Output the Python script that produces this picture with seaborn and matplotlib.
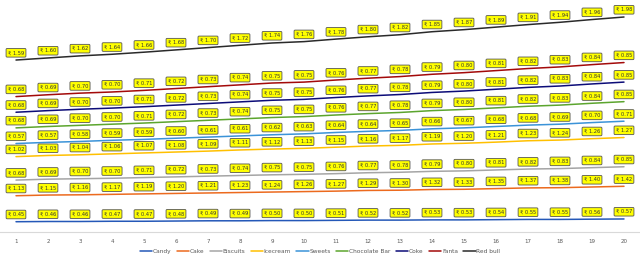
import pandas as pd
import numpy as np
import matplotlib
matplotlib.use('Agg')
import matplotlib.pyplot as plt
import seaborn as sns

# Data; series are stacked lines
days = list(range(1, 21))
candy = [0.45, 0.46, 0.46, 0.47, 0.47, 0.48, 0.49, 0.49, 0.50, 0.50,
         0.51, 0.52, 0.52, 0.53, 0.53, 0.54, 0.55, 0.55, 0.56, 0.57]
cake = [1.13, 1.15, 1.16, 1.17, 1.19, 1.20, 1.21, 1.23, 1.24, 1.26,
        1.27, 1.29, 1.30, 1.32, 1.33, 1.35, 1.37, 1.38, 1.40, 1.42]
biscuits = [0.68, 0.69, 0.70, 0.70, 0.71, 0.72, 0.73, 0.74, 0.75, 0.75,
            0.76, 0.77, 0.78, 0.79, 0.80, 0.81, 0.82, 0.83, 0.84, 0.85]
icecream = [1.02, 1.03, 1.04, 1.06, 1.07, 1.08, 1.09, 1.11, 1.12, 1.13,
            1.15, 1.16, 1.17, 1.19, 1.20, 1.21, 1.23, 1.24, 1.26, 1.27]
sweets = [0.57, 0.57, 0.58, 0.59, 0.59, 0.60, 0.61, 0.61, 0.62, 0.63,
          0.64, 0.64, 0.65, 0.66, 0.67, 0.68, 0.68, 0.69, 0.70, 0.71]
chocolate_bar = [0.68, 0.69, 0.70, 0.70, 0.71, 0.72, 0.73, 0.74, 0.75, 0.75,
                 0.76, 0.77, 0.78, 0.79, 0.80, 0.81, 0.82, 0.83, 0.84, 0.85]
coke = [0.68, 0.69, 0.70, 0.70, 0.71, 0.72, 0.73, 0.74, 0.75, 0.75,
        0.76, 0.77, 0.78, 0.79, 0.80, 0.81, 0.82, 0.83, 0.84, 0.85]
fanta = [0.68, 0.69, 0.70, 0.70, 0.71, 0.72, 0.73, 0.74, 0.75, 0.75,
         0.76, 0.77, 0.78, 0.79, 0.80, 0.81, 0.82, 0.83, 0.84, 0.85]
red_bull = [1.59, 1.60, 1.62, 1.64, 1.66, 1.68, 1.70, 1.72, 1.74, 1.76,
            1.78, 1.80, 1.82, 1.85, 1.87, 1.89, 1.91, 1.94, 1.96, 1.98]

names = ['Candy', 'Cake', 'Biscuits', 'Icecream', 'Sweets',
         'Chocolate Bar', 'Coke', 'Fanta', 'Red bull']
series = [candy, cake, biscuits, icecream, sweets,
          chocolate_bar, coke, fanta, red_bull]
colors = ['#2458B8', '#EC6A1E', '#A5A5A5', '#FFC000', '#3B93D8',
          '#5CA52E', '#0C0C78', '#A30A0A', '#2A2A2A']

# Build long table with stacked (cumulative) values
rows = []
running = np.zeros(len(days))
for name, vals in zip(names, series):
    running = running + np.array(vals)
    for d, v, c in zip(days, vals, running):
        rows.append({'day': d, 'item': name, 'value': v, 'stacked': c})
df = pd.DataFrame(rows)

sns.set_style('white')
fig = plt.figure(figsize=(6.4, 2.57), dpi=100)
ax = fig.add_axes([0.0, 0.097, 1.0, 0.895])

sns.lineplot(data=df, x='day', y='stacked', hue='item', hue_order=names,
             palette=dict(zip(names, colors)), linewidth=1.1, ax=ax,
             legend=True)

# yellow value labels above each point
for _, r in df.iterrows():
    ax.annotate(f"\u20b9 {r['value']:.2f}", (r['day'], r['stacked']),
                xytext=(0, 5.2), textcoords='offset points',
                ha='center', va='center', fontsize=3.7, color='#333333',
                bbox=dict(boxstyle='round,pad=0.35,rounding_size=0.2',
                          fc='#FFFF00', ec='#555555', lw=0.6))

ax.set_xlim(0.5, 20.5)
ax.set_ylim(0, 10)
ax.set_xticks(days)
ax.set_xticklabels([str(d) for d in days])
ax.set_yticks([])
ax.set_xlabel('')
ax.set_ylabel('')
ax.tick_params(axis='x', length=0, labelsize=4, colors='#595959', pad=5)
for s in ['top', 'left', 'right']:
    ax.spines[s].set_visible(False)
ax.spines['bottom'].set_color('#D9D9D9')
ax.spines['bottom'].set_linewidth(0.8)

handles, labels = ax.get_legend_handles_labels()
leg = ax.legend(handles, labels, loc='lower center', ncol=9, frameon=False,
                fontsize=4.2, handlelength=2.1, handletextpad=0.15,
                columnspacing=0.9, labelcolor='#595959', borderpad=0.2)
leg.set_bbox_to_anchor((0.5, -0.005), transform=fig.transFigure)

fig.savefig('out.png', dpi=100)
